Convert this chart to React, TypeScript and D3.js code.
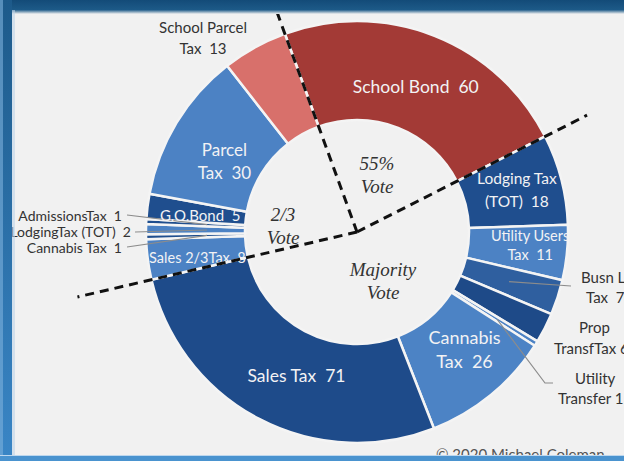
import React from 'react';
import * as d3 from 'd3';

// ---- data ----
const categories = [
  'School Bond', 'Lodging Tax (TOT)', 'Utility Users Tax', 'Busn Lic Tax', 'Prop TransfTax',
  'Utility Transfer', 'Cannabis Tax', 'Sales Tax', 'Sales 2/3Tax', 'Cannabis Tax (2/3)',
  'LodgingTax (TOT) (2/3)', 'AdmissionsTax', 'G.O.Bond', 'Parcel Tax', 'School Parcel Tax',
];
const values = [60, 18, 11, 7, 6, 1, 26, 71, 8, 1, 2, 1, 5, 30, 13];
const sliceColors = [
  '#A33A36', '#1F4E8E', '#4C82C4', '#2F5F9F', '#1E4A88',
  '#4C82C4', '#4C83C5', '#1E4B8A', '#4C82C4', '#1F4E8E',
  '#4C82C4', '#1F4E8E', '#1F4E8E', '#4C82C4', '#D8706B',
];
const labelLines = [
  ['School Bond  60'], ['Lodging Tax', '(TOT)  18'], ['Utility Users', 'Tax  11'], ['Busn Lic', 'Tax  7'],
  ['Prop', 'TransfTax 6'], ['Utility', 'Transfer 1'], ['Cannabis', 'Tax  26'], ['Sales Tax  71'],
  ['Sales 2/3Tax  8'], ['Cannabis Tax  1'], ['LodgingTax (TOT)  2'], ['AdmissionsTax  1'],
  ['G.O.Bond  5'], ['Parcel', 'Tax  30'], ['School Parcel', 'Tax  13'],
];
const zoneLabels = [['55%', 'Vote'], ['2/3', 'Vote'], ['Majority', 'Vote']];
const credit = '\u00A9 2020 Michael Coleman';

// ---- layout ----
const W = 624, H = 461;
const cx = 357, cy = 232, R = 211, R0 = 112;
const START_DEG = -20;
// inside label: [radius, dx, dy, fontSize, lineGap]
const inside: Record<number, [number, number, number, number, number]> = {
  0: [160, 0, 4, 17.5, 22],
  1: [162, 3, -1, 15.5, 23],
  2: [172, 2, -3, 14.5, 19],
  6: [160, 6, -6, 18, 24],
  7: [160, 14, 2, 17.5, 22],
  8: [162, 1, 5, 14.5, 20],
  12: [160, 2, 3, 15, 20],
  13: [155, 0, 10, 17, 23],
};
// outside label layout
type Out = { xs: number[]; y: number; anchor: string; fs: number; gap: number; lx: number; ly: number; lr: number };
const outside: Record<number, Out> = {
  3: { xs: [581, 586], y: 283, anchor: 'start', fs: 15, gap: 20, lx: 571, ly: 286, lr: 160 },
  4: { xs: [579, 554], y: 333, anchor: 'start', fs: 15, gap: 21, lx: -1, ly: -1, lr: 0 },
  5: { xs: [575, 558], y: 384, anchor: 'start', fs: 15, gap: 20, lx: 545, ly: 383, lr: 165 },
  9: { xs: [122], y: 253, anchor: 'end', fs: 14, gap: 0, lx: 127, ly: 247, lr: 150 },
  10: { xs: [131], y: 237, anchor: 'end', fs: 14, gap: 0, lx: 135, ly: 232, lr: 150 },
  11: { xs: [122], y: 221, anchor: 'end', fs: 14, gap: 0, lx: 127, ly: 215, lr: 150 },
  14: { xs: [203, 203], y: 33, anchor: 'middle', fs: 15, gap: 21, lx: -1, ly: -1, lr: 0 },
};
const zonePos: [number, number][] = [[377, 170], [283, 221], [383, 276]];

const rad = (d: number) => (d * Math.PI) / 180;

export default function App() {
  const pie = d3.pie<number>().sort(null).startAngle(rad(START_DEG)).endAngle(rad(START_DEG + 360));
  const arcs = pie(values);
  const arcGen = d3.arc<d3.PieArcDatum<number>>().innerRadius(R0).outerRadius(R);
  const pt = (ang: number, r: number): [number, number] => [cx + r * Math.sin(ang), cy - r * Math.cos(ang)];

  // dashed boundaries: start of School Bond, end of School Bond, end of Sales Tax
  const dashAngles = [arcs[0].startAngle, arcs[0].endAngle, arcs[7].endAngle];
  const dashLens = [241, 258, 287];

  const sansFont = 'Lato, "Open Sans", sans-serif';

  return (
    <svg width={W} height={H} style={{ position: 'fixed', left: 0, top: 0 }} xmlSpace="preserve">
      <defs>
        <linearGradient id="topbar" x1="0" y1="0" x2="0" y2="1">
          <stop offset="0" stopColor="#134B78" />
          <stop offset="0.7" stopColor="#1D5A88" />
          <stop offset="1" stopColor="#F0F0F0" />
        </linearGradient>
        <linearGradient id="leftbar" x1="0" y1="0" x2="0" y2="1">
          <stop offset="0" stopColor="#1D5A8A" />
          <stop offset="1" stopColor="#3A86C6" />
        </linearGradient>
      </defs>
      <rect x={0} y={0} width={W} height={H} fill="#F1F1F1" />

      <g>
        {arcs.map((a, i) => (
          <path key={categories[i]} d={arcGen(a) || ''} transform={`translate(${cx},${cy})`}
            fill={sliceColors[i]} stroke="#F4F4F4" strokeWidth={2.5} strokeLinejoin="round" />
        ))}
      </g>

      {/* leader lines */}
      {Object.entries(outside).map(([k, o]) => {
        const i = +k;
        if (o.lr <= 0) return null;
        const mid = (arcs[i].startAngle + arcs[i].endAngle) / 2;
        const [x1, y1] = pt(mid, o.lr);
        const pts = i === 5 ? `${x1},${y1} ${o.lx},${o.ly} ${o.lx + 8},${o.ly}` : `${x1},${y1} ${o.lx},${o.ly}`;
        return <polyline key={'l' + k} points={pts} fill="none" stroke="#8C8C8C" strokeWidth={1.2} />;
      })}

      {/* inside labels */}
      {Object.entries(inside).map(([k, c]) => {
        const i = +k;
        const mid = (arcs[i].startAngle + arcs[i].endAngle) / 2;
        const [x, y] = pt(mid, c[0]);
        const lines = labelLines[i];
        const y0 = y + c[2] - ((lines.length - 1) * c[4]) / 2 + c[3] * 0.35;
        return (
          <text key={'t' + k} x={x + c[1]} y={y0} textAnchor="middle" fill="#F2F2F4"
            fontFamily={sansFont} fontSize={c[3]} style={{ whiteSpace: 'pre' }}>
            {lines.map((s, j) => (
              <tspan key={j} x={x + c[1]} y={y0 + j * c[4]}>{s}</tspan>
            ))}
          </text>
        );
      })}

      {/* outside labels */}
      {Object.entries(outside).map(([k, o]) => {
        const i = +k;
        const lines = labelLines[i];
        return (
          <text key={'o' + k} x={o.xs[0]} y={o.y} textAnchor={o.anchor as any} fill="#333333"
            fontFamily={sansFont} fontSize={o.fs} style={{ whiteSpace: 'pre' }}>
            {lines.map((s, j) => (
              <tspan key={j} x={o.xs[j]} y={o.y + j * o.gap}>{s}</tspan>
            ))}
          </text>
        );
      })}

      {/* dashed zone lines */}
      {dashAngles.map((ang, i) => {
        const [x2, y2] = pt(ang, dashLens[i]);
        return <line key={'d' + i} x1={cx} y1={cy} x2={x2} y2={y2} stroke="#111" strokeWidth={3}
          strokeDasharray="9 6" />;
      })}

      {/* zone labels */}
      {zoneLabels.map((z, i) => (
        <text key={'z' + i} x={zonePos[i][0]} y={zonePos[i][1]} textAnchor="middle" fill="#333"
          fontFamily='"Liberation Serif", "DejaVu Serif", serif' fontStyle="italic" fontSize={19}>
          {z.map((s, j) => (
            <tspan key={j} x={zonePos[i][0]} y={zonePos[i][1] + j * 23}>{s}</tspan>
          ))}
        </text>
      ))}

      <text x={436} y={460} fill="#555" fontFamily={sansFont} fontSize={15}>{credit}</text>

      {/* frame */}
      <rect x={0} y={0} width={W} height={14} fill="url(#topbar)" />
      <rect x={0} y={0} width={12} height={H} fill="url(#leftbar)" />
      <rect x={0} y={0} width={3} height={H} fill="#7DB0DC" opacity={0.6} />
      <rect x={12} y={10} width={3} height={H - 10} fill="#BFD6EA" opacity={0.6} />
      <rect x={0} y={456} width={W} height={5} fill="#4A93CF" />
      <rect x={0} y={455} width={W} height={1} fill="#BDD7EE" />
    </svg>
  );
}
